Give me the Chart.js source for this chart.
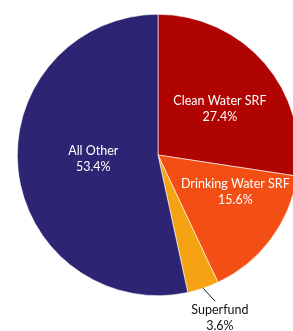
<!DOCTYPE html>
<html><head><meta charset="utf-8">
<script src="https://cdn.jsdelivr.net/npm/chart.js@4/dist/chart.umd.min.js"></script>
<style>
html,body{margin:0;padding:0;background:#fff;overflow:hidden;}
#wrap{width:293px;height:331px;overflow:hidden;position:relative;}
#c{position:absolute;left:0;top:0;}
</style></head><body>
<div id="wrap"><canvas id="c" width="310" height="331"></canvas></div>
<script>
const categories = ["Clean Water SRF", "Drinking Water SRF", "Superfund", "All Other"];
const shares = [27.4, 15.6, 3.6, 53.4];
const colors = ["#b00402", "#f34e13", "#f5a313", "#2e2474"];
// label anchor, as fraction of radius from the pie centre
const labelPos = [[0.44,-0.33],[0.55,0.262],[0.44,1.16],[-0.46,0.025]];
const labelColor = ["#fff","#fff","#111","#fff"];

const labelsPlugin = {
  id:'pieLabels',
  afterDatasetsDraw(chart){
    const ctx = chart.ctx;
    const meta = chart.getDatasetMeta(0);
    const a0 = meta.data[0];
    const cx = a0.x, cy = a0.y, r = a0.outerRadius;
    ctx.save();
    ctx.font = '12.5px Lato, "Open Sans", sans-serif';
    ctx.textAlign = 'center';
    ctx.textBaseline = 'middle';
    meta.data.forEach((arc,i)=>{
      const x = cx + labelPos[i][0]*r, y = cy + labelPos[i][1]*r;
      ctx.fillStyle = labelColor[i];
      ctx.fillText(categories[i], x, y-8);
      ctx.fillText(shares[i].toFixed(1)+'%', x, y+8);
      if (i===2){
        const mid = (arc.startAngle+arc.endAngle)/2;
        const sx = cx + Math.cos(mid)*r, sy = cy + Math.sin(mid)*r;
        ctx.strokeStyle = '#111'; ctx.lineWidth = 1;
        ctx.beginPath(); ctx.moveTo(sx, sy); ctx.lineTo(sx+12, sy+13); ctx.stroke();
      }
    });
    ctx.restore();
  }
};

new Chart(document.getElementById('c'), {
  type:'pie',
  data:{labels:categories, datasets:[{data:shares, backgroundColor:colors, borderColor:'#ffffff', borderWidth:0.6}]},
  options:{
    responsive:false, animation:false, devicePixelRatio:1,
    layout:{padding:{left:17,right:11,top:14,bottom:35}},
    plugins:{legend:{display:false}, tooltip:{enabled:false}}
  },
  plugins:[labelsPlugin]
});
</script>
</body></html>
